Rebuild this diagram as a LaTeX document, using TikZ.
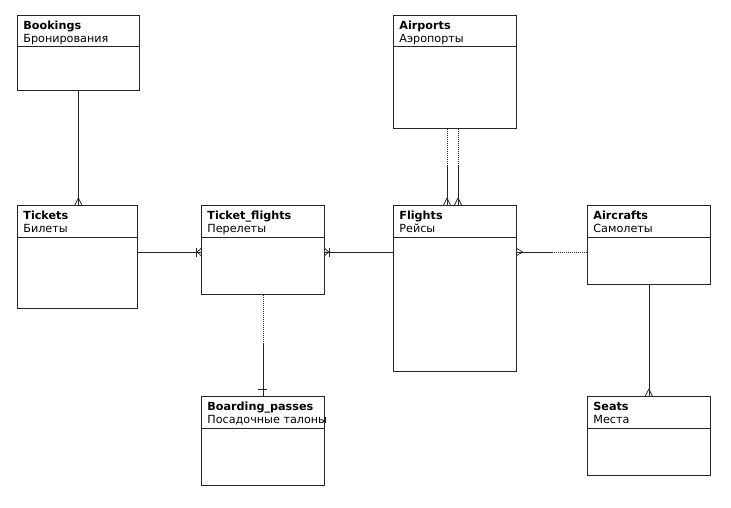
\documentclass[tikz,border=0pt]{standalone}
\usepackage{fontspec}
\setmainfont{DejaVu Sans}

\tikzset{
  entity/.style={draw=black!85, anchor=north west, inner sep=0pt},
  titletext/.style={anchor=north west, inner sep=0pt, align=left},
  dots/.style={dash pattern=on 1pt off 1pt}
}
\newcommand\crowfoot[3]{\draw[shift={(#1)}, rotate=#2] (-#3,0) -- (0,3.5) (-#3,0) -- (0,-3.5);}
\newcommand\onebar[3]{\draw[shift={(#1)}, rotate=#2] (-#3,-4.5) -- (-#3,4.5);}

\begin{document}
\begin{tikzpicture}[x=1pt, y=1pt, line width=0.75pt, draw=black!85, font=\fontsize{11.2}{13}\selectfont]
\useasboundingbox (0,0) rectangle (731,-508);
\foreach \n/\x/\y/\w/\h/\t/\s in {bookings/17/15/122/75/Bookings/Бронирования,
  airports/393/15/123/113/Airports/Аэропорты,
  tickets/17/205/120/103/Tickets/Билеты,
  tf/201/205/123/89/Ticket\_flights/Перелеты,
  flights/393/205/123/166/Flights/Рейсы,
  aircrafts/587/205/123/79/Aircrafts/Самолеты,
  boarding/201/396/123/89/Boarding\_passes/Посадочные талоны,
  seats/587/396/123/79/Seats/Места}
{
  \node[entity, minimum width=\w pt, minimum height=\h pt] (\n) at (\x,-\y) {};
  \node[titletext] (\n-t) at ([xshift=6pt,yshift=-5.5pt]\n.north west) {\textbf{\t}\\\s};
  \draw[line width=1pt] ([yshift=-32pt]\n.north west) -- ([yshift=-32pt]\n.north east);
}
% bookings - tickets
\draw (bookings.south) -- (bookings.south |- tickets.north);
\crowfoot{bookings.south |- tickets.north}{-90}{7}
% tickets, flights - ticket_flights
\coordinate (tfw) at ([yshift=-47pt]tf.north west);
\coordinate (tfe) at ([yshift=-47pt]tf.north east);
\draw (tickets.east |- tfw) -- (tfw);
\onebar{tfw}{0}{5} \crowfoot{tfw}{0}{4}
\draw (flights.west |- tfe) -- (tfe);
\onebar{tfe}{180}{5} \crowfoot{tfe}{180}{4}
% airports - flights
\foreach \dx in {54,65}{
  \coordinate (a) at ([xshift=\dx pt]airports.south west);
  \draw[dots] (a) -- ++(0,-37) coordinate (am);
  \draw (am) -- (a |- flights.north);
  \crowfoot{a |- flights.north}{-90}{7}
}
% aircrafts - flights
\coordinate (acw) at ([yshift=-47pt]aircrafts.north west);
\draw[dots] (acw) -- ++(-34,0) coordinate (acm);
\draw (acm) -- (flights.east |- acw);
\crowfoot{flights.east |- acw}{180}{6}
% ticket_flights - boarding_passes
\draw[dots] (tf.south) -- ++(0,-48) coordinate (tfm);
\draw (tfm) -- (tf.south |- boarding.north);
\onebar{tf.south |- boarding.north}{-90}{7}
% aircrafts - seats
\draw (aircrafts.south) -- (aircrafts.south |- seats.north);
\crowfoot{aircrafts.south |- seats.north}{-90}{7}
\end{tikzpicture}
\end{document}
